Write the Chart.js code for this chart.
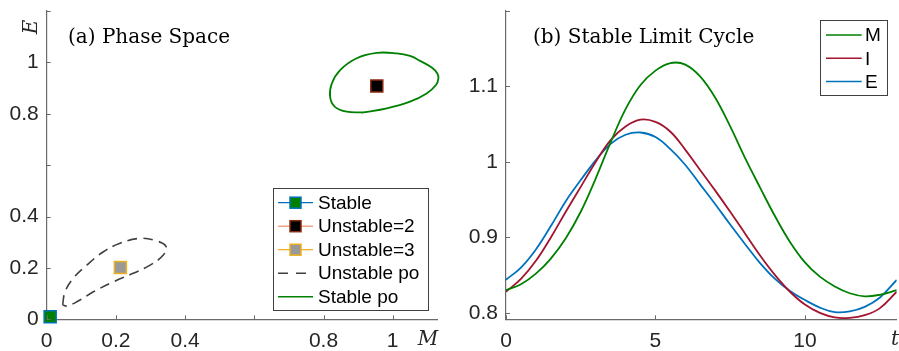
<!DOCTYPE html>
<html>
<head>
<meta charset="utf-8">
<script src="https://cdn.jsdelivr.net/npm/chart.js@4"></script>
<style>
  html, body { margin: 0; padding: 0; background: #fff; }
  #wrap { position: relative; width: 899px; height: 351px; }
  #phase { position: absolute; left: 0; top: 0; }
  #cycle { position: absolute; left: 450px; top: 0; }
</style>
</head>
<body>
<div id="wrap">
  <canvas id="phase" width="450" height="351"></canvas>
  <canvas id="cycle" width="449" height="351"></canvas>
</div>
<script>
// ── DATA ────────────────────────────────────────────────────

// (a) phase space: equilibria
const stableEq = { x: 0.01, y: 0.01 };
const unstable2Eq = { x: 0.954, y: 0.908 };
const unstable3Eq = { x: 0.213, y: 0.202 };

// (a) periodic orbits, M and E
const stablePoM = [0.915, 0.867, 0.833, 0.819, 0.824, 0.848, 0.896, 0.954, 1.012, 1.050, 1.079, 1.113, 1.129, 1.132, 1.125, 1.098, 1.050, 0.983, 0.915];
const stablePoE = [0.805, 0.808, 0.827, 0.866, 0.918, 0.970, 1.016, 1.037, 1.035, 1.025, 1.006, 0.980, 0.957, 0.938, 0.912, 0.879, 0.847, 0.821, 0.805];
const unstablePoM = [0.046, 0.053, 0.077, 0.116, 0.164, 0.212, 0.270, 0.318, 0.345, 0.337, 0.299, 0.250, 0.193, 0.135, 0.087, 0.058, 0.046];
const unstablePoE = [0.056, 0.107, 0.160, 0.211, 0.263, 0.296, 0.315, 0.305, 0.283, 0.250, 0.211, 0.179, 0.146, 0.107, 0.068, 0.052, 0.056];

const phaseXTicks = [0, 0.2, 0.4, 0.6, 0.8, 1];
const phaseYTicks = [0, 0.2, 0.4, 0.6, 0.8, 1, 1.2];
const phaseHidden = [0.6, 1.2];   // ticks drawn but not labelled

// (b) stable limit cycle time series
const tTime  = [0, 0.5, 1, 1.5, 2, 2.5, 3, 3.5, 4, 4.5, 5, 5.5, 6, 6.5, 7, 7.5, 8, 8.5, 9, 9.5, 10, 10.5, 11, 11.5, 12, 12.5, 13.07];
const mCycle = [0.830, 0.838, 0.852, 0.872, 0.899, 0.934, 0.978, 1.026, 1.070, 1.102, 1.121, 1.131, 1.129, 1.113, 1.085, 1.047, 1.005, 0.966, 0.928, 0.894, 0.867, 0.848, 0.835, 0.826, 0.822, 0.824, 0.830];
const iCycle = [0.828, 0.845, 0.869, 0.900, 0.934, 0.967, 1.000, 1.029, 1.047, 1.056, 1.053, 1.040, 1.016, 0.989, 0.962, 0.934, 0.905, 0.876, 0.850, 0.828, 0.811, 0.800, 0.794, 0.7935, 0.797, 0.806, 0.828];
const eCycle = [0.844, 0.860, 0.884, 0.915, 0.948, 0.976, 1.002, 1.024, 1.036, 1.039, 1.033, 1.017, 0.996, 0.970, 0.944, 0.917, 0.891, 0.866, 0.845, 0.829, 0.817, 0.807, 0.801, 0.802, 0.808, 0.820, 0.8437];

const cycleXTicks = [0, 5, 10];
const cycleYTicks = [0.8, 0.9, 1, 1.1, 1.2];
const cycleHidden = [1.2];

// ── STYLE ───────────────────────────────────────────────────

const AXIS = '#6a6a6a';
const TXT = '#262626';
const SANS = '"Liberation Sans", Arial, sans-serif';
const SERIF = '"DejaVu Serif", serif';
const GREEN = '#008000', RED = '#A2142F', BLUE = '#0072BD';

Chart.defaults.font.family = SANS;
Chart.defaults.animation = false;

const fmt = v => String(+v.toFixed(2));

function axisX(min, max, ticks, hidden, height) {
  return {
    type: 'linear', min, max,
    afterBuildTicks: s => { s.ticks = ticks.map(v => ({ value: v })); },
    afterFit: s => { s.height = height; s.paddingLeft = 0; s.paddingRight = 0; },
    grid: { display: false, drawTicks: false },
    border: { display: true, color: AXIS, width: 1.2 },
    ticks: {
      color: TXT, font: { size: 21 }, padding: 9, maxRotation: 0, autoSkip: false,
      callback: v => hidden.includes(v) ? '' : fmt(v)
    }
  };
}

function axisY(min, max, ticks, hidden, width) {
  return {
    type: 'linear', min, max,
    afterBuildTicks: s => { s.ticks = ticks.map(v => ({ value: v })); },
    afterFit: s => { s.width = width; s.paddingTop = 0; s.paddingBottom = 0; },
    grid: { display: false, drawTicks: false },
    border: { display: true, color: AXIS, width: 1.2 },
    ticks: {
      color: TXT, font: { size: 21 }, padding: 8, autoSkip: false,
      callback: v => hidden.includes(v) ? '' : fmt(v)
    }
  };
}

// inward tick marks (MATLAB style)
const inTicks = {
  id: 'inTicks',
  afterDatasetsDraw(chart) {
    const { ctx, chartArea: a, scales: { x, y } } = chart;
    ctx.save();
    ctx.strokeStyle = AXIS;
    ctx.lineWidth = 1;
    ctx.beginPath();
    x.ticks.forEach(t => {
      const px = Math.round(x.getPixelForValue(t.value)) + 0.5;
      ctx.moveTo(px, a.bottom); ctx.lineTo(px, a.bottom - 4);
    });
    y.ticks.forEach(t => {
      const py = Math.round(y.getPixelForValue(t.value)) + 0.5;
      ctx.moveTo(a.left, py); ctx.lineTo(a.left + 4, py);
    });
    ctx.stroke();
    ctx.restore();
  }
};

// titles, axis names and boxed legend, drawn on top
function overlay(opts) {
  return {
    id: 'overlay',
    afterDraw(chart) {
      const ctx = chart.ctx;
      ctx.save();
      // panel title
      ctx.fillStyle = '#000';
      ctx.font = '20px ' + SERIF;
      ctx.textBaseline = 'alphabetic';
      ctx.textAlign = 'left';
      ctx.fillText(opts.title, opts.titleX, 42.5);
      // axis names
      ctx.font = 'italic 20px ' + SERIF;
      ctx.fillStyle = TXT;
      ctx.textAlign = 'center';
      ctx.textBaseline = 'middle';
      ctx.fillText(opts.xName, opts.xNameX, 340);
      if (opts.yName) {
        ctx.save();
        ctx.translate(32, 27);
        ctx.rotate(-Math.PI / 2);
        ctx.fillText(opts.yName, 0, 0);
        ctx.restore();
      }
      // legend box
      const L = opts.legend;
      ctx.fillStyle = '#fff';
      ctx.fillRect(L.x, L.y, L.w, L.h);
      ctx.strokeStyle = '#404040';
      ctx.lineWidth = 1;
      ctx.strokeRect(L.x + 0.5, L.y + 0.5, L.w, L.h);
      ctx.font = '19px ' + SANS;
      ctx.textAlign = 'left';
      ctx.textBaseline = 'middle';
      L.items.forEach((it, i) => {
        const ds = chart.data.datasets[it.ds];
        const yy = L.row0 + i * L.step;
        ctx.save();
        ctx.strokeStyle = it.line || ds.borderColor;
        ctx.lineWidth = it.lineWidth || 1.5;
        ctx.setLineDash(it.dash || []);
        ctx.beginPath();
        ctx.moveTo(L.lineX0, yy); ctx.lineTo(L.lineX1, yy);
        ctx.stroke();
        ctx.restore();
        if (it.marker) {
          const cx = (L.lineX0 + L.lineX1) / 2, s = 11;
          ctx.fillStyle = ds.backgroundColor;
          ctx.fillRect(cx - s / 2, yy - s / 2, s, s);
          ctx.strokeStyle = ds.borderColor;
          ctx.lineWidth = 1.5;
          ctx.strokeRect(cx - s / 2, yy - s / 2, s, s);
        }
        ctx.fillStyle = '#000';
        ctx.fillText(ds.label, L.textX, yy + 1);
      });
      ctx.restore();
    }
  };
}

const toXY = (xs, ys) => xs.map((v, i) => ({ x: v, y: ys[i] }));

// ── (a) PHASE SPACE ─────────────────────────────────────────

const marker = (label, pt, fill, edge) => ({
  label, data: [pt],
  pointStyle: 'rect', pointRadius: 8.5, pointHoverRadius: 8.5,
  backgroundColor: fill, borderColor: edge, pointBorderWidth: 1.5, borderWidth: 1.5,
  showLine: false, clip: false
});

new Chart(document.getElementById('phase'), {
  type: 'scatter',
  data: {
    datasets: [
      marker('Stable', stableEq, GREEN, BLUE),
      marker('Unstable=2', unstable2Eq, '#000000', '#8A2B10'),
      marker('Unstable=3', unstable3Eq, '#999999', '#EDB120'),
      {
        label: 'Unstable po', data: toXY(unstablePoM, unstablePoE),
        showLine: true, borderColor: '#404040', borderWidth: 1.6, borderDash: [10, 6],
        pointRadius: 0, tension: 0.4, clip: false
      },
      {
        label: 'Stable po', data: toXY(stablePoM, stablePoE),
        showLine: true, borderColor: GREEN, borderWidth: 1.8,
        pointRadius: 0, tension: 0.4, clip: false
      }
    ]
  },
  options: {
    responsive: false,
    layout: { padding: { left: 0, top: 11, right: 13, bottom: 0 } },
    plugins: { legend: { display: false }, tooltip: { enabled: false } },
    scales: {
      x: axisX(0, 1.128, phaseXTicks, phaseHidden, 31.7),
      y: axisY(0, 1.2, phaseYTicks, phaseHidden, 46.7)
    }
  },
  plugins: [inTicks, overlay({
    title: '(a) Phase Space', titleX: 68,
    xName: 'M', xNameX: 428, yName: 'E',
    legend: {
      x: 273, y: 188, w: 155, h: 122, row0: 202.7, step: 23.5,
      lineX0: 278, lineX1: 313, textX: 318,
      items: [
        { ds: 0, marker: true, line: BLUE, lineWidth: 1.2 },
        { ds: 1, marker: true, line: '#EFA388', lineWidth: 1.5 },
        { ds: 2, marker: true, line: '#EDB120', lineWidth: 1.2 },
        { ds: 3, dash: [10, 8] },
        { ds: 4 }
      ]
    }
  })]
});

// ── (b) STABLE LIMIT CYCLE ──────────────────────────────────

const series = (label, ys, color) => ({
  label, data: toXY(tTime, ys),
  borderColor: color, borderWidth: 1.8, pointRadius: 0,
  tension: 0.4, fill: false
});

new Chart(document.getElementById('cycle'), {
  type: 'line',
  data: {
    datasets: [
      series('M', mCycle, GREEN),
      series('I', iCycle, RED),
      series('E', eCycle, BLUE)
    ]
  },
  options: {
    responsive: false,
    layout: { padding: { left: 0, top: 11, right: 2.3, bottom: 0 } },
    plugins: { legend: { display: false }, tooltip: { enabled: false } },
    scales: {
      x: axisX(0, 13.07, cycleXTicks, [], 31.7),
      y: axisY(0.7915, 1.2, cycleYTicks, cycleHidden, 56)
    }
  },
  plugins: [inTicks, overlay({
    title: '(b) Stable Limit Cycle', titleX: 83,
    xName: 't', xNameX: 445,
    legend: {
      x: 370, y: 20, w: 67, h: 75, row0: 35, step: 23.3,
      lineX0: 376, lineX1: 411.7, textX: 415,
      items: [{ ds: 0 }, { ds: 1 }, { ds: 2 }]
    }
  })]
});
</script>
</body>
</html>
